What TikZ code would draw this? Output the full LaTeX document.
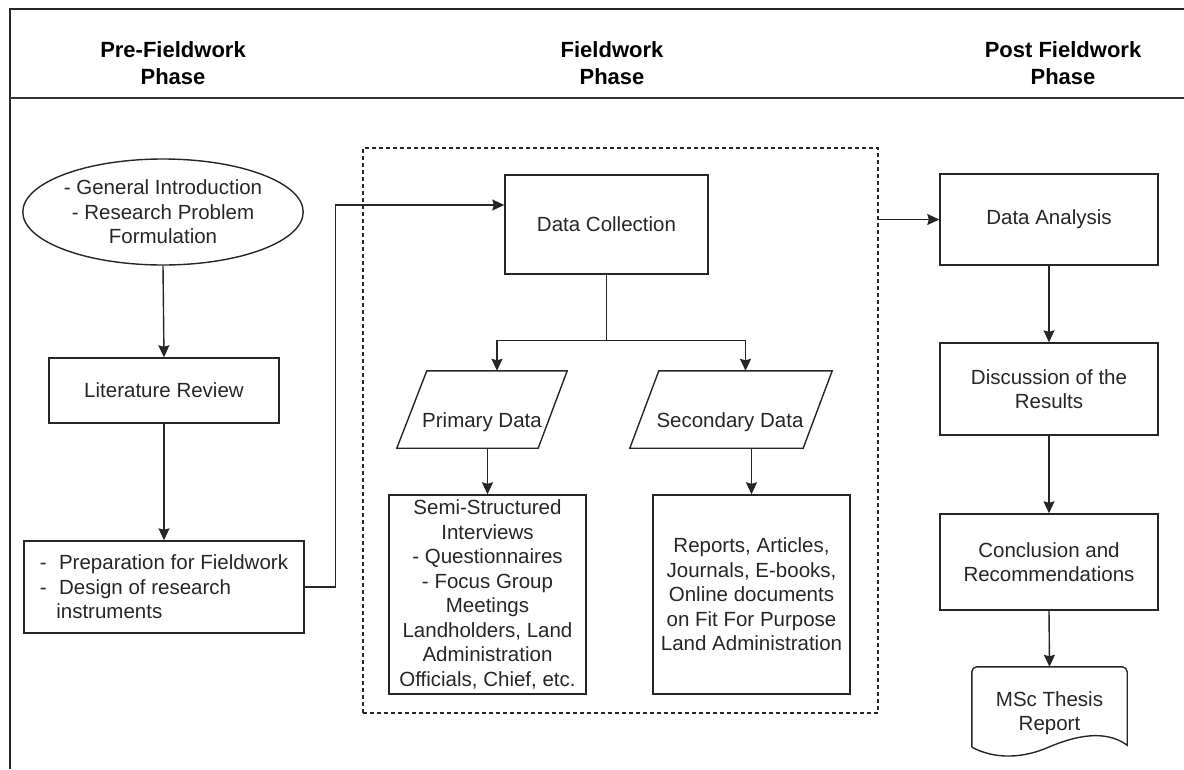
\documentclass[tikz,border=0pt]{standalone}
\usepackage{fontspec}
\setmainfont{Liberation Sans}
\usetikzlibrary{shapes.geometric,arrows.meta,calc}
\definecolor{ink}{RGB}{38,38,38}
\begin{document}
\begin{tikzpicture}[x=1pt,y=-1pt,
  every node/.style={text=ink, font=\fontsize{20.5}{24.5}\selectfont, inner sep=0pt},
  boxnode/.style={draw=ink, line width=1.4pt, rectangle, align=center},
  link/.style={draw=ink, line width=1.4pt},
  arr/.style={link, -{Stealth[length=12pt,width=11pt,inset=1.5pt]}},
  head/.style={font=\fontsize{22}{27}\selectfont\bfseries, text=black, align=center},
  blank/.style={rectangle, draw=none},
]
\useasboundingbox (0,0) rectangle (1184,769);

% frame and header band
\draw[line width=1.5pt, black!85] (1184,9) -- (10,9) -- (10,769);
\draw[line width=1.5pt, black!80] (10,98) -- (1184,98);
\node[head] (hpre)  at (173,63)  {Pre-Fieldwork\\Phase};
\node[head] (hfld)  at (612,63)  {Fieldwork\\Phase};
\node[head] (hpost) at (1063,63) {Post Fieldwork\\Phase};

% pre-fieldwork column
\node[draw=ink, line width=1.4pt, ellipse, minimum width=280pt, minimum height=106pt, align=center]
  (intro) at (163,212) {- General Introduction\\- Research Problem\\Formulation};
\node[boxnode, minimum width=230pt, minimum height=65pt] (lit) at (164,390.5) {Literature Review};
\node[boxnode, minimum width=280pt, minimum height=92pt, align=left]
  (prep) at (164,587) {-\hspace{0.6em}Preparation for Fieldwork\\-\hspace{0.6em}Design of research\\\hspace{0.8em}instruments};

\draw[arr] (intro.south) -- (lit.north);
\draw[arr] (lit.south) -- (prep.north);

% fieldwork column
\node[draw=ink, line width=1.4pt, dash pattern=on 4pt off 3pt, minimum width=515pt, minimum height=565pt]
  (field) at (620.5,430.5) {};
\node[boxnode, minimum width=203pt, minimum height=99pt] (dc) at (606.5,224.5) {Data Collection};

\node[blank, minimum width=170pt, minimum height=77pt] (prim) at (482,409.5) {};
\draw[link] (prim.south west) -- ([xshift=30pt]prim.north west) -- (prim.north east)
  -- ([xshift=-29pt]prim.south east) -- cycle;
\node (primtxt) at (482,422) {Primary Data};

\node[blank, minimum width=202pt, minimum height=77pt] (sec) at (731,409.5) {};
\draw[link] (sec.south west) -- ([xshift=29pt]sec.north west) -- (sec.north east)
  -- ([xshift=-29pt]sec.south east) -- cycle;
\node (sectxt) at (730,422) {Secondary Data};

\node[boxnode, minimum width=197pt, minimum height=199pt] (semi) at (487.5,594.5)
  {Semi-Structured\\Interviews\\- Questionnaires\\- Focus Group\\Meetings\\Landholders, Land\\Administration\\Officials, Chief, etc.};
\node[boxnode, minimum width=197pt, minimum height=199pt] (rep) at (751.5,594.5)
  {Reports, Articles,\\Journals, E-books,\\Online documents\\on Fit For Purpose\\Land Administration};

\coordinate (split) at ($(dc.south)+(0,66)$);
\draw[link] (dc.south) -- (split);
\draw[arr] (split) -| ([xshift=15pt]prim.north);
\draw[arr] (split) -| ([xshift=14.5pt]sec.north);
\draw[arr] (semi.north |- prim.south) -- (semi.north);
\draw[arr] (rep.north |- sec.south) -- (rep.north);

% hand-over from preparation to data collection
\draw[arr] (prep.east) -- ++(31,0) |- ([yshift=19.5pt]dc.west);

% post-fieldwork column
\node[boxnode, minimum width=218pt, minimum height=91pt] (da) at (1049,219.5) {Data Analysis};
\node[boxnode, minimum width=218pt, minimum height=92pt] (disc) at (1049,389) {Discussion of the\\Results};
\node[boxnode, minimum width=218pt, minimum height=96pt] (conc) at (1049,562) {Conclusion and\\Recommendations};

\node[blank, minimum width=155pt, minimum height=80pt] (doc) at (1049.5,707) {};
\draw[link] (doc.south west) [rounded corners=5pt] -- (doc.north west) -- (doc.north east) [sharp corners]
  -- ([yshift=2pt]doc.south east)
  .. controls (1105,729) and (1075,736) .. (1049,747)
  .. controls (1024,758) and (996,760) .. (doc.south west);
\node[align=center] (doctxt) at (1049.5,713) {MSc Thesis\\Report};

\draw[arr] (field.east |- da.west) -- (da.west);
\draw[arr] (da.south) -- (disc.north);
\draw[arr] (disc.south) -- (conc.north);
\draw[arr] (conc.south) -- (doc.north);
\end{tikzpicture}
\end{document}
